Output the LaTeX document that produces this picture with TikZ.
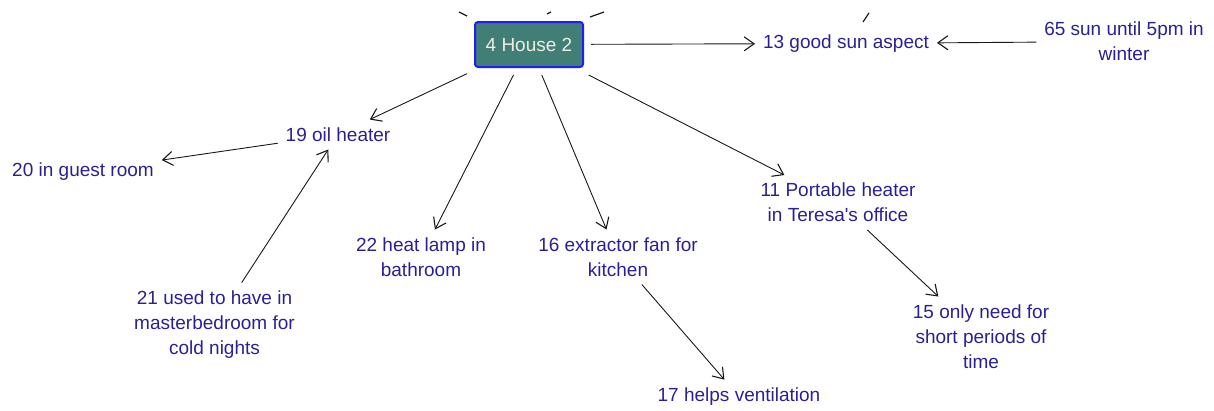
\documentclass[tikz,border=0pt]{standalone}
\usepackage{fontspec}
% a family of its own, so that ' stays a straight apostrophe
\newfontfamily\labelfont{Liberation Sans}
\usetikzlibrary{arrows.meta}

\definecolor{labelblue}{RGB}{42,32,150}
\definecolor{housefill}{RGB}{64,126,118}
\definecolor{houseline}{RGB}{30,30,250}
\definecolor{housetext}{RGB}{238,238,225}

\tikzset{
  txt/.style={font=\labelfont\fontsize{19}{25}\selectfont, text=labelblue,
    align=center, inner sep=0pt, outer sep=8pt},
  topic/.style={draw=houseline, line width=2pt, fill=housefill,
    rounded corners=3pt, minimum width=108pt, minimum height=45pt,
    font=\labelfont\fontsize{19}{25}\selectfont, text=housetext,
    inner sep=0pt, outer sep=8pt},
  arr/.style={draw=black!90, line width=0.9pt,
    -{Straight Barb[length=10pt,width=14pt,line width=1.1pt]}},
  stub/.style={draw=black!90, line width=1.2pt}
}

\begin{document}
\begin{tikzpicture}[x=1pt,y=-1pt]
  \useasboundingbox (0,0) rectangle (1214,410);

  % central topic
  \node[topic] (house) at (529,44.5) {4 House 2};

  % surrounding ideas
  \node[txt] (n13) at (846,43.5)  {13 good sun aspect};
  \node[txt] (n65) at (1124,41.5) {65 sun until 5pm in\\winter};
  \node[txt] (n19) at (338,134.5) {19 oil heater};
  \node[txt] (n20) at (83,171.5)  {20 in guest room};
  \node[txt] (n22) at (421,257)   {22 heat lamp in\\bathroom};
  \node[txt] (n16) at (618,257)   {16 extractor fan for\\kitchen};
  \node[txt] (n11) at (838,202.5) {11 Portable heater\\in Teresa's office};
  \node[txt] (n15) at (981,336.5) {15 only need for\\short periods of\\time};
  \node[txt] (n21) at (214.5,324.5) {21 used to have in\\masterbedroom for\\cold nights};
  \node[txt] (n17) at (739,396.5) {17 helps ventilation};

  % links
  \draw[arr] (house) -- (n13);
  \draw[arr] (n65)   -- (n13);
  \draw[arr] (house) -- (n19);
  \draw[arr] (house) -- (n22);
  \draw[arr] (house) -- (n16);
  \draw[arr] (house) -- (n11);
  \draw[arr] (n19)   -- (n20);
  \draw[arr] (n21)   -- (n19);
  \draw[arr] (n11)   -- (n15);
  \draw[arr] (n16)   -- (n17);

  % links leaving towards ideas above the view
  \coordinate (s1a) at (459,12);  \coordinate (s1b) at (467,16);
  \coordinate (s2a) at (547,14);  \coordinate (s2b) at (551,12);
  \coordinate (s3a) at (590,17);  \coordinate (s3b) at (604,12);
  \coordinate (s4a) at (863,22);  \coordinate (s4b) at (869,13);
  \draw[stub] (s1a) -- (s1b);
  \draw[stub] (s2a) -- (s2b);
  \draw[stub] (s3a) -- (s3b);
  \draw[stub] (s4a) -- (s4b);
\end{tikzpicture}
\end{document}
